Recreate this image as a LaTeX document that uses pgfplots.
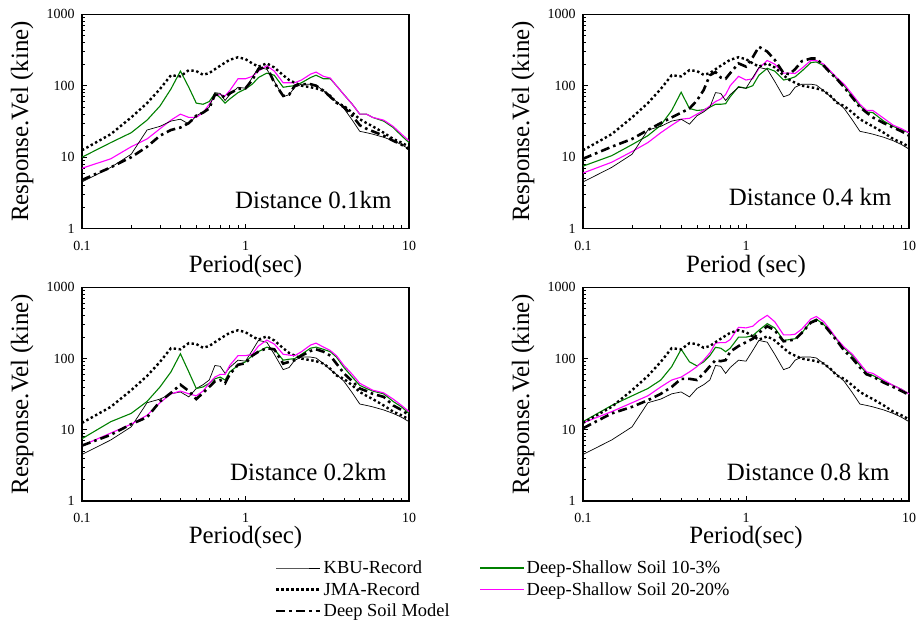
\documentclass[border=0pt]{standalone}
\usepackage{fontspec}
\setmainfont{Liberation Serif}
\usepackage{pgfplots}
\usepackage{pgfplotstable}
\pgfplotsset{compat=1.18}
\definecolor{dsgreen}{RGB}{0,128,0}
\definecolor{dsmag}{RGB}{255,0,255}

% records (same in every panel)
\pgfplotstableread{
T     kbu   jma
0.1   4.5   12.5
0.15  7.2   21
0.2   11    36
0.25  24    57
0.3   27    90
0.35  32    140
0.4   34    135
0.45  29    165
0.5   38    160
0.55  43    142
0.6   50    150
0.65  80    170
0.7   78    190
0.75  62    210
0.8   75    230
0.9   95    250
1.0   92    235
1.1   130   205
1.2   180   185
1.35  170   205
1.5   115   180
1.7   70    140
1.85  75    120
2.0   95    110
2.2   105   100
2.5   105   95
2.7   102   92
3.0   85    85
3.3   70    72
3.6   60    58
4.0   48    52
4.5   33    42
5.0   23    34
5.5   22    30
6.0   21    27
7.0   19    22
8.0   17    18
9.0   15    16
10    13    14
}\records

% distance 0.1 km
\pgfplotstableread{
T     deep  g    m
0.1   4.8   10   7
0.15  7.2   16   9.5
0.2   10    22   14
0.25  14    33   18
0.3   20    52   25
0.35  24    90   33
0.4   26    160  40
0.45  30    95   36
0.5   38    57   36
0.55  42    55   42
0.6   48    60   55
0.65  75    78   72
0.7   75    68   75
0.75  68    57   72
0.8   78    65   85
0.9   90    80   125
1.0   92    90   125
1.1   120   105  135
1.2   170   130  160
1.35  185   150  190
1.5   110   140  160
1.7   72    95   110
1.85  75    98   110
2.0   100   100  110
2.2   105   110  120
2.5   105   130  145
2.7   100   140  155
3.0   85    125  135
3.3   70    125  128
3.6   58    100  100
4.0   50    75   75
4.5   38    55   55
5.0   28    40   40
5.5   25    40   40
6.0   23    36   36
7.0   20    32   33
8.0   17    26   27
9.0   15    20   21
10    13    16   17
}\dA

% distance 0.4 km
\pgfplotstableread{
T     deep  g    m
0.1   9.5   7.5  6
0.15  14    10.5 8.5
0.2   18    15   12
0.25  24    20   16
0.3   30    28   22
0.35  36    45   28
0.4   42    81   34
0.45  48    48   35
0.5   62    45   40
0.55  87    46   45
0.6   140   50   52
0.65  155   55   60
0.7   130   55   65
0.75  125   56   75
0.8   150   70   100
0.9   205   97   135
1.0   185   92   120
1.1   250   100  125
1.2   350   140  175
1.35  300   175  225
1.5   230   160  200
1.7   150   120  150
1.85  145   125  150
2.0   170   133  148
2.2   220   160  175
2.5   240   210  225
2.7   240   215  225
3.0   190   190  200
3.3   150   155  160
3.6   125   125  130
4.0   95    100  105
4.5   68    70   75
5.0   50    52   55
5.5   42    43   45
6.0   36    42   45
7.0   30    32   35
8.0   26    27   28
9.0   23    24   25
10    20    22   22
}\dB

% distance 0.2 km
\pgfplotstableread{
T     deep  g    m
0.1   6     7.5  6
0.15  8.5   13   9
0.2   12    17   12
0.25  15    25   16
0.3   25    40   24
0.35  33    65   32
0.4   43    117  35
0.45  35    65   32
0.5   27    38   30
0.55  33    40   35
0.6   40    45   45
0.65  48    52   55
0.7   50    55   60
0.75  45    50   60
0.8   60    65   80
0.9   82    80   110
1.0   86    90   110
1.1   110   110  115
1.2   125   125  150
1.35  140   145  182
1.5   135   135  160
1.7   85    95   115
1.85  90    98   112
2.0   95    100  110
2.2   110   115  125
2.5   128   140  155
2.7   135   145  165
3.0   125   135  145
3.3   110   125  130
3.6   85    105  110
4.0   62    75   80
4.5   48    55   60
5.0   38    42   45
5.5   35    38   40
6.0   32    35   36
7.0   29    32   33
8.0   22    25   27
9.0   19    21   22
10    16    17   18
}\dC

% distance 0.8 km
\pgfplotstableread{
T     deep  g    m
0.1   10.5  13   12.5
0.15  17    22   18
0.2   21    30   24
0.25  26    38   30
0.3   32    50   40
0.35  40    77   50
0.4   52    135  55
0.45  52    90   65
0.5   50    79   77
0.55  62    90   95
0.6   78    110  120
0.65  95    144  165
0.7   92    140  168
0.75  95    125  168
0.8   125   140  185
0.9   150   200  275
1.0   170   200  270
1.1   190   210  285
1.2   230   250  340
1.35  285   310  405
1.5   250   270  330
1.7   175   180  215
1.85  180   185  215
2.0   185   190  220
2.2   230   230  260
2.5   320   330  360
2.7   345   360  390
3.0   300   300  330
3.3   230   240  250
3.6   180   185  190
4.0   130   140  145
4.5   100   110  115
5.0   75    80   85
5.5   60    62   65
6.0   56    58   62
7.0   46    48   50
8.0   40    42   42
9.0   35    37   37
10    31    32   32
}\dD

\pgfplotsset{
  kbustyle/.style={color=black, line width=0.7bp},
  jmastyle/.style={color=black, line width=2.4bp, dash pattern=on 2.4bp off 2.6bp},
  deepstyle/.style={color=black, line width=2.6bp, dash pattern=on 9bp off 4bp on 2.6bp off 4bp},
  grstyle/.style={color=dsgreen, line width=1.1bp},
  mgstyle/.style={color=dsmag, line width=1.1bp},
}

\newcommand{\curves}[1]{%
  \addplot[grstyle, forget plot] table[x=T, y=g] {#1};
  \addplot[mgstyle, forget plot] table[x=T, y=m] {#1};
  \addplot[kbustyle, forget plot] table[x=T, y=kbu] {\records};
  \addplot[jmastyle, forget plot] table[x=T, y=jma] {\records};
  \addplot[deepstyle, forget plot] table[x=T, y=deep] {#1};
}

\begin{document}
\begin{tikzpicture}
\useasboundingbox (0,0) rectangle (916bp,623bp);

\begin{axis}[anchor=south west, at={(82bp,394.3bp)}, width=327bp, height=214.5bp,
  scale only axis, xmode=log, ymode=log,
  xmin=0.1, xmax=10, ymin=1, ymax=1000,
  xtick={0.1,1,10}, xticklabels={0.1,1,10},
  ytick={1,10,100,1000}, yticklabels={1,10,100,1000},
  minor xtick={0.2,0.3,0.4,0.5,0.6,0.7,0.8,0.9,2,3,4,5,6,7,8,9},
  minor ytick={2,3,4,5,6,7,8,9,20,30,40,50,60,70,80,90,200,300,400,500,600,700,800,900},
  tick pos=left, tick align=inside,
  major tick length=5bp, minor tick length=3.5bp,
  axis line style={line width=1.3bp},
  tick style={black, line width=0.8bp},
  tick label style={font=\rmfamily\fontsize{14}{16}\selectfont},
  xticklabel style={anchor=center, yshift=-17bp},
  yticklabel style={xshift=-4bp},
  xlabel style={font=\rmfamily\fontsize{25}{28}\selectfont, at={(axis description cs:0.5,-0.177)}, anchor=center},
  ylabel style={font=\rmfamily\fontsize{25}{28}\selectfont, at={(axis description cs:-0.183,0.5)}, anchor=center},
  ylabel={Response.Vel (kine)},
  xlabel={Period(sec)}]
\curves{\dA}
\node[anchor=base east, font=\rmfamily\fontsize{25}{28}\selectfont] at (axis description cs:0.957,0.093) {Distance 0.1km};
\end{axis}

\begin{axis}[anchor=south west, at={(583bp,394.3bp)}, width=326bp, height=214.5bp,
  scale only axis, xmode=log, ymode=log,
  xmin=0.1, xmax=10, ymin=1, ymax=1000,
  xtick={0.1,1,10}, xticklabels={0.1,1,10},
  ytick={1,10,100,1000}, yticklabels={1,10,100,1000},
  minor xtick={0.2,0.3,0.4,0.5,0.6,0.7,0.8,0.9,2,3,4,5,6,7,8,9},
  minor ytick={2,3,4,5,6,7,8,9,20,30,40,50,60,70,80,90,200,300,400,500,600,700,800,900},
  tick pos=left, tick align=inside,
  major tick length=5bp, minor tick length=3.5bp,
  axis line style={line width=1.3bp},
  tick style={black, line width=0.8bp},
  tick label style={font=\rmfamily\fontsize{14}{16}\selectfont},
  xticklabel style={anchor=center, yshift=-17bp},
  yticklabel style={xshift=-4bp},
  xlabel style={font=\rmfamily\fontsize{25}{28}\selectfont, at={(axis description cs:0.5,-0.177)}, anchor=center},
  ylabel style={font=\rmfamily\fontsize{25}{28}\selectfont, at={(axis description cs:-0.184,0.5)}, anchor=center},
  ylabel={Response.Vel (kine)},
  xlabel={Period (sec)}]
\curves{\dB}
\node[anchor=base east, font=\rmfamily\fontsize{25}{28}\selectfont] at (axis description cs:0.957,0.11) {Distance 0.4 km};
\end{axis}

\begin{axis}[anchor=south west, at={(82bp,122bp)}, width=327bp, height=213.6bp,
  scale only axis, xmode=log, ymode=log,
  xmin=0.1, xmax=10, ymin=1, ymax=1000,
  xtick={0.1,1,10}, xticklabels={0.1,1,10},
  ytick={1,10,100,1000}, yticklabels={1,10,100,1000},
  minor xtick={0.2,0.3,0.4,0.5,0.6,0.7,0.8,0.9,2,3,4,5,6,7,8,9},
  minor ytick={2,3,4,5,6,7,8,9,20,30,40,50,60,70,80,90,200,300,400,500,600,700,800,900},
  tick pos=left, tick align=inside,
  major tick length=5bp, minor tick length=3.5bp,
  axis line style={line width=1.3bp},
  tick style={black, line width=0.8bp},
  tick label style={font=\rmfamily\fontsize{14}{16}\selectfont},
  xticklabel style={anchor=center, yshift=-17bp},
  yticklabel style={xshift=-4bp},
  xlabel style={font=\rmfamily\fontsize{25}{28}\selectfont, at={(axis description cs:0.5,-0.17)}, anchor=center},
  ylabel style={font=\rmfamily\fontsize{25}{28}\selectfont, at={(axis description cs:-0.183,0.5)}, anchor=center},
  ylabel={Response.Vel (kine)},
  xlabel={Period(sec)},
  legend columns=2, legend cell align=left,
  legend image code/.code={\draw[#1] plot coordinates {(0bp,0bp) (22bp,0bp) (44bp,0bp)};},
  legend style={at={(axis description cs:0.59,-0.270)}, anchor=north west,
    draw=none, fill=none, inner sep=0pt, row sep=3.2bp,
    font=\rmfamily\fontsize{18.5}{20}\selectfont,
    /tikz/every even column/.append style={column sep=28bp}}]
\addplot[kbustyle] table[x=T, y=kbu] {\records};
\addlegendentry{KBU-Record}
\addplot[grstyle] table[x=T, y=g] {\dC};
\addlegendentry{Deep-Shallow Soil 10-3\%}
\addplot[jmastyle] table[x=T, y=jma] {\records};
\addlegendentry{JMA-Record}
\addplot[mgstyle] table[x=T, y=m] {\dC};
\addlegendentry{Deep-Shallow Soil 20-20\%}
\addplot[deepstyle] table[x=T, y=deep] {\dC};
\addlegendentry{Deep Soil Model}
\node[anchor=base east, font=\rmfamily\fontsize{25}{28}\selectfont] at (axis description cs:0.942,0.098) {Distance 0.2km};
\end{axis}

\begin{axis}[anchor=south west, at={(583bp,122bp)}, width=326bp, height=213.6bp,
  scale only axis, xmode=log, ymode=log,
  xmin=0.1, xmax=10, ymin=1, ymax=1000,
  xtick={0.1,1,10}, xticklabels={0.1,1,10},
  ytick={1,10,100,1000}, yticklabels={1,10,100,1000},
  minor xtick={0.2,0.3,0.4,0.5,0.6,0.7,0.8,0.9,2,3,4,5,6,7,8,9},
  minor ytick={2,3,4,5,6,7,8,9,20,30,40,50,60,70,80,90,200,300,400,500,600,700,800,900},
  tick pos=left, tick align=inside,
  major tick length=5bp, minor tick length=3.5bp,
  axis line style={line width=1.3bp},
  tick style={black, line width=0.8bp},
  tick label style={font=\rmfamily\fontsize{14}{16}\selectfont},
  xticklabel style={anchor=center, yshift=-17bp},
  yticklabel style={xshift=-4bp},
  xlabel style={font=\rmfamily\fontsize{25}{28}\selectfont, at={(axis description cs:0.5,-0.17)}, anchor=center},
  ylabel style={font=\rmfamily\fontsize{25}{28}\selectfont, at={(axis description cs:-0.184,0.5)}, anchor=center},
  ylabel={Response.Vel (kine)},
  xlabel={Period(sec)}]
\curves{\dD}
\node[anchor=base east, font=\rmfamily\fontsize{25}{28}\selectfont] at (axis description cs:0.951,0.098) {Distance 0.8 km};
\end{axis}
\end{tikzpicture}
\end{document}
